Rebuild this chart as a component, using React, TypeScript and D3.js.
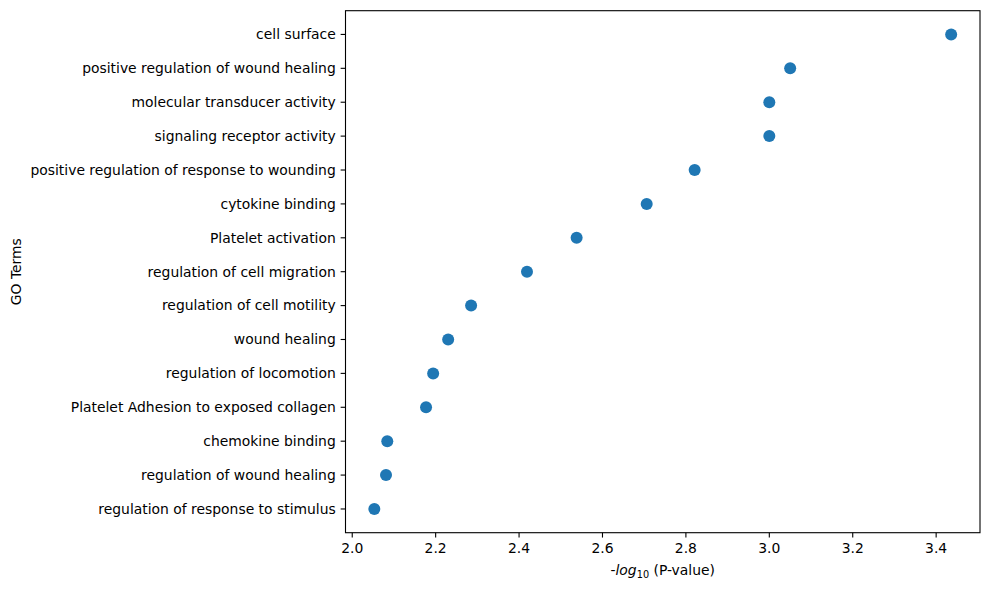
import React from 'react';
import * as d3 from 'd3';

const terms = [
  'cell surface',
  'positive regulation of wound healing',
  'molecular transducer activity',
  'signaling receptor activity',
  'positive regulation of response to wounding',
  'cytokine binding',
  'Platelet activation',
  'regulation of cell migration',
  'regulation of cell motility',
  'wound healing',
  'regulation of locomotion',
  'Platelet Adhesion to exposed collagen',
  'chemokine binding',
  'regulation of wound healing',
  'regulation of response to stimulus',
];

const negLogP = [
  3.436, 3.05, 3.0, 3.0, 2.821, 2.706, 2.538, 2.419, 2.285, 2.23, 2.194, 2.177, 2.084, 2.081, 2.053,
];

const xTicks = [2.0, 2.2, 2.4, 2.6, 2.8, 3.0, 3.2, 3.4];

const W = 989;
const H = 590;
const margin = { left: 345.5, right: 9, top: 10.7, bottom: 57.3 };
const FONT = 'DejaVu Sans, sans-serif';
const FS = 13.9;
const TICK = 4.86;

const App: React.FC = () => {
  const x0 = d3.min(negLogP)!;
  const x1 = d3.max(negLogP)!;
  const pad = (x1 - x0) * 0.05;
  const x = d3
    .scaleLinear()
    .domain([x0 - pad, x1 + pad])
    .range([margin.left, W - margin.right]);

  const n = terms.length;
  const yPad = (n - 1) * 0.05;
  const y = d3
    .scaleLinear()
    .domain([-yPad, n - 1 + yPad])
    .range([margin.top, H - margin.bottom]);

  const left = margin.left;
  const right = W - margin.right;
  const top = margin.top;
  const bottom = H - margin.bottom;

  return (
    <svg
      width={W}
      height={H}
      style={{ position: 'absolute', left: 0, top: 0, background: '#fff' }}
      fontFamily={FONT}
    >
      {/* points */}
      {terms.map((t, i) => (
        <circle key={t} cx={x(negLogP[i])} cy={y(i)} r={6} fill="#1f77b4" />
      ))}

      {/* frame */}
      <rect
        x={left}
        y={top}
        width={right - left}
        height={bottom - top}
        fill="none"
        stroke="#000"
        strokeWidth={1.1}
      />

      {/* x ticks */}
      {xTicks.map((t) => (
        <g key={t} transform={`translate(${x(t)},${bottom})`}>
          <line y2={TICK} stroke="#000" strokeWidth={1.1} />
          <text y={TICK + 4.9} dy="0.76em" textAnchor="middle" fontSize={FS} fill="#000">
            {t.toFixed(1)}
          </text>
        </g>
      ))}

      {/* y ticks */}
      {terms.map((t, i) => (
        <g key={t} transform={`translate(${left},${y(i)})`}>
          <line x2={-TICK} stroke="#000" strokeWidth={1.1} />
          <text x={-TICK - 4.9} dy="0.35em" textAnchor="end" fontSize={FS} fill="#000">
            {t}
          </text>
        </g>
      ))}

      {/* x label */}
      <text x={(left + right) / 2} y={575} textAnchor="middle" fontSize={FS} fill="#000">
        -<tspan fontStyle="italic">log</tspan>
        <tspan fontSize={FS * 0.7} dy={3}>10</tspan>
        <tspan dy={-3}> (P-value)</tspan>
      </text>

      {/* y label */}
      <text
        transform={`translate(21,${(top + bottom) / 2}) rotate(-90)`}
        textAnchor="middle"
        fontSize={FS}
        fill="#000"
      >
        GO Terms
      </text>
    </svg>
  );
};

export default App;
